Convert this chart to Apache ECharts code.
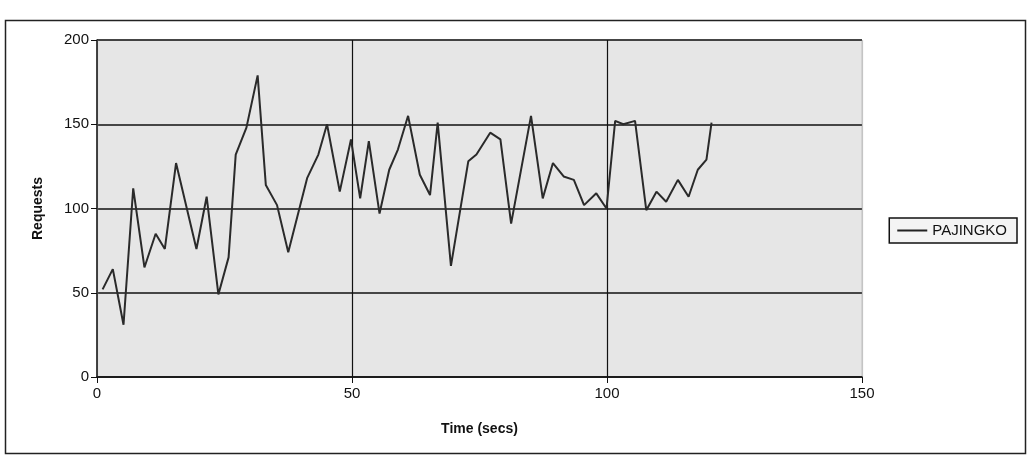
<!DOCTYPE html>
<html>
<head>
<meta charset="utf-8">
<title>PAJINGKO requests over time</title>
<script src="https://cdn.jsdelivr.net/npm/echarts@6/dist/echarts.min.js"></script>
<style>
  html, body { margin: 0; padding: 0; background: #ffffff; }
  #chart { width: 1032px; height: 457px; }
</style>
</head>
<body>
<div id="chart"></div>
<script>
// Sample times (seconds) and request counts for the PAJINGKO server
const timeSecs = [
  1.1, 3.1, 5.2, 7.1, 9.3, 11.5, 13.3, 15.5, 19.5, 21.5,
  23.8, 25.8, 27.2, 29.3, 31.5, 33.1, 35.3, 37.5, 41.2, 43.4,
  45.1, 47.6, 49.8, 51.6, 53.3, 55.4, 57.3, 59.0, 61.0, 63.3,
  65.3, 66.8, 69.4, 72.8, 74.4, 77.1, 79.1, 81.2, 85.1, 87.4,
  89.4, 91.5, 93.5, 95.5, 97.9, 99.9, 101.6, 103.2, 105.5, 107.7,
  109.7, 111.6, 113.9, 116.0, 117.8, 119.5, 120.5
];
const requests = [
  52, 64, 31, 112, 65, 85, 76, 127, 76, 107,
  49, 71, 132, 148, 179, 114, 102, 74, 118, 132,
  150, 110, 141, 106, 140, 97, 123, 135, 155, 120,
  108, 151, 66, 128, 132, 145, 141, 91, 155, 106,
  127, 119, 117, 102, 109, 100, 152, 150, 152, 99,
  110, 104, 117, 107, 123, 129, 151
];
const seriesName = 'PAJINGKO';
const xTicks = [0, 50, 100, 150];
const yTicks = [0, 50, 100, 150, 200];

const labelFont = '"Liberation Sans Narrow", "Liberation Sans", Arial, sans-serif';

const chart = echarts.init(document.getElementById('chart'), null, { renderer: 'canvas' });

chart.setOption({
  animation: false,
  backgroundColor: '#ffffff',
  grid: {
    left: 97, right: 170, top: 40, bottom: 80,
    show: true,
    backgroundColor: '#e6e6e6',
    borderColor: '#c4c4c4',
    borderWidth: 1
  },
  legend: {
    show: true,
    right: 15, top: 218,
    orient: 'vertical',
    padding: [5, 10, 5, 8],
    borderColor: '#111',
    borderWidth: 1.5,
    borderRadius: 0,
    backgroundColor: '#f4f4f4',
    itemWidth: 30,
    itemHeight: 2,
    itemGap: 0,
    icon: 'rect',
    textStyle: { fontFamily: labelFont, fontSize: 15, color: '#111' },
    data: [{ name: seriesName, itemStyle: { color: '#222' } }]
  },
  xAxis: {
    type: 'value',
    min: xTicks[0],
    max: xTicks[xTicks.length - 1],
    interval: 50,
    name: 'Time (secs)',
    nameLocation: 'middle',
    nameGap: 45,
    nameTextStyle: { fontFamily: labelFont, fontSize: 14, fontWeight: 'bold', color: '#111' },
    axisLine: { show: true, onZero: false, lineStyle: { color: '#111', width: 1.5 } },
    axisTick: { show: true, inside: false, length: 6, lineStyle: { color: '#111', width: 1 } },
    axisLabel: { fontFamily: labelFont, fontSize: 15, color: '#111', margin: 9 },
    splitLine: { show: true, lineStyle: { color: ['#c4c4c4', '#111', '#111', '#c4c4c4'], width: 1.2 } }
  },
  yAxis: {
    type: 'value',
    min: yTicks[0],
    max: yTicks[yTicks.length - 1],
    interval: 50,
    name: 'Requests',
    nameLocation: 'middle',
    nameGap: 52,
    nameRotate: 90,
    nameTextStyle: { fontFamily: labelFont, fontSize: 14, fontWeight: 'bold', color: '#111' },
    axisLine: { show: true, onZero: false, lineStyle: { color: '#111', width: 1.5 } },
    axisTick: { show: true, inside: false, length: 6, lineStyle: { color: '#111', width: 1 } },
    axisLabel: { fontFamily: labelFont, fontSize: 15, color: '#111', margin: 8 },
    splitLine: { show: true, lineStyle: { color: '#111', width: 1.5 } }
  },
  series: [{
    name: seriesName,
    type: 'line',
    data: timeSecs.map((t, i) => [t, requests[i]]),
    showSymbol: false,
    symbol: 'none',
    lineStyle: { color: '#2a2a2a', width: 2 },
    itemStyle: { color: '#2a2a2a' }
  }],
  graphic: [{
    type: 'rect',
    shape: { x: 5.5, y: 20.5, width: 1020, height: 433 },
    style: { fill: 'none', stroke: '#222', lineWidth: 1.5 },
    silent: true,
    z: -1
  }]
});
</script>
</body>
</html>
